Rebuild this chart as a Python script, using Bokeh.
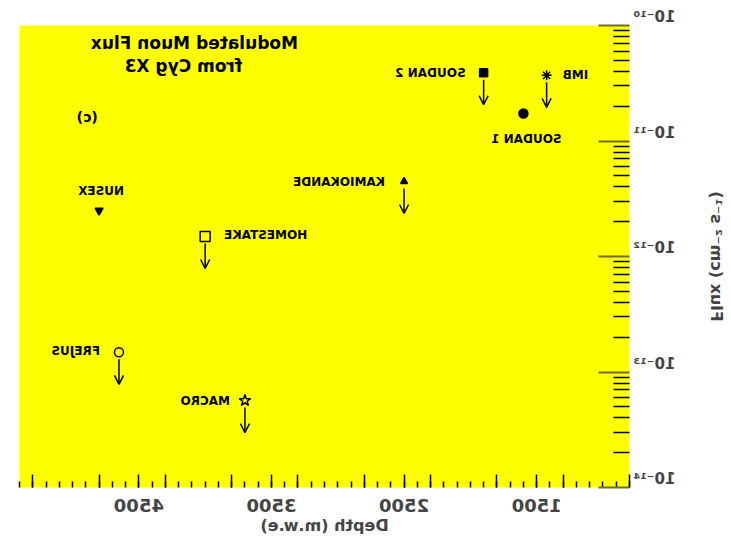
from bokeh.plotting import figure
from bokeh.models import (ColumnDataSource, FixedTicker, CustomJSTickFormatter,
                          Arrow, OpenHead, Label)
from bokeh.core.properties import value
from bokeh.embed import file_html
from bokeh.resources import INLINE

# Underground detectors: depth (m.w.e) and modulated muon flux from Cyg X-3
experiments = ["IMB", "SOUDAN 2", "SOUDAN 1", "KAMIOKANDE", "NUSEX",
               "HOMESTAKE", "FREJUS", "MACRO"]
depth = [1425, 1900, 1600, 2500, 4800, 4000, 4650, 3700]
flux = [3.7e-11, 3.9e-11, 1.73e-11, 4.46e-12, 2.5e-12, 1.49e-12, 1.48e-13, 5.66e-14]
upper_limit = [True, True, False, True, False, True, True, True]

depth_tick_labels = [1500, 2500, 3500, 4500]
flux_decades = [1e-14, 1e-13, 1e-12, 1e-11, 1e-10]
flux_tick_labels = ["10\u207b\u00b9\u2074", "10\u207b\u00b9\u00b3", "10\u207b\u00b9\u00b2",
                    "10\u207b\u00b9\u00b9", "10\u207b\u00b9\u2070"]

FONT_NAME = "DejaVu Sans"
FONT = value(FONT_NAME)

# marker glyph and label placement for each experiment
style = {
    "IMB":        dict(marker="asterisk", size=10, filled=True, align="right", dx=-16, dy=0),
    "SOUDAN 2":   dict(marker="square", size=8, filled=True, align="left", dx=18, dy=0),
    "SOUDAN 1":   dict(marker="circle", size=9, filled=True, align="center", dx=-3, dy=25),
    "KAMIOKANDE": dict(marker="triangle", size=7, filled=True, align="left", dx=19, dy=0),
    "NUSEX":      dict(marker="inverted_triangle", size=8, filled=True, align="center", dx=-2, dy=-20),
    "HOMESTAKE":  dict(marker="square", size=10, filled=False, align="right", dx=-19, dy=-1),
    "FREJUS":     dict(marker="circle", size=9, filled=False, align="left", dx=19, dy=-1),
    "MACRO":      dict(marker="star", size=12, filled=False, align="left", dx=15, dy=0),
}

p = figure(width=731, height=537, output_backend="svg", toolbar_location=None,
           x_range=(800, 5400), y_range=(1e-14, 1e-10), y_axis_type="log",
           min_border_left=101, min_border_right=20, min_border_top=25,
           min_border_bottom=50)
p.background_fill_color = "#ffff00"
p.border_fill_color = "white"
p.outline_line_color = None
p.grid.visible = False

# x axis: labelled every 1000, longer ticks every 500, small ticks every 100
xa = p.xaxis[0]
medium = [800, 1300, 1800, 2300, 2800, 3300, 3800, 4300, 4800, 5300]
xa.ticker = FixedTicker(ticks=sorted(medium + depth_tick_labels),
                        minor_ticks=list(range(800, 5401, 100)))
xa.formatter = CustomJSTickFormatter(args=dict(shown=depth_tick_labels),
                                     code="return shown.includes(tick) ? String(tick) : '';")
xa.axis_line_color = None
xa.major_tick_in = 13
xa.major_tick_out = 0
xa.minor_tick_in = 6
xa.minor_tick_out = 0
xa.major_tick_line_color = "black"
xa.minor_tick_line_color = "black"
xa.major_tick_line_width = 1.5
xa.minor_tick_line_width = 1.5
xa.major_label_standoff = 11
xa.major_label_text_font = FONT_NAME
xa.major_label_text_font_style = "bold"
xa.major_label_text_font_size = "18px"
xa.axis_label = "Depth (m.w.e)"
xa.axis_label_text_font = FONT_NAME
xa.axis_label_text_font_style = "bold"
xa.axis_label_text_font_size = "16px"
xa.axis_label_standoff = 1

# y axis: decades with 2..9 sub-ticks; labels sit just above their tick
ya = p.yaxis[0]
minor_y = [m * 10.0 ** e for e in range(-14, -10) for m in range(2, 10)]
ya.ticker = FixedTicker(ticks=flux_decades, minor_ticks=minor_y)
ya.formatter = CustomJSTickFormatter(
    args=dict(decades=flux_decades, names=flux_tick_labels),
    code="const i = decades.findIndex(t => Math.abs(Math.log10(t) - Math.log10(tick)) < 1e-6);"
         "return i >= 0 ? names[i] + '\\n\\u00a0' : '';")
ya.axis_line_color = None
ya.major_tick_in = 31
ya.major_tick_out = 0
ya.minor_tick_in = 16
ya.minor_tick_out = 0
ya.major_tick_line_color = "#6e6e2a"
ya.major_tick_line_width = 2
ya.minor_tick_line_color = "black"
ya.minor_tick_line_width = 1.5
ya.major_label_standoff = 4
ya.major_label_text_font = FONT_NAME
ya.major_label_text_font_style = "bold"
ya.major_label_text_font_size = "15px"
ya.major_label_text_line_height = 0.9
ya.axis_label = "Flux (cm\u207b\u00b2 s\u207b\u00b9)"
ya.axis_label_text_font = FONT_NAME
ya.axis_label_text_font_style = "bold"
ya.axis_label_text_font_size = "16px"
ya.axis_label_standoff = 29

# markers and their names
for name, d, f in zip(experiments, depth, flux):
    s = style[name]
    src = ColumnDataSource(dict(x=[d], y=[f], t=[name]))
    p.scatter("x", "y", source=src, marker=s["marker"], size=s["size"],
              line_color="black", line_width=1.5,
              fill_color="black" if s["filled"] else None)
    p.text("x", "y", text="t", source=src, text_font=FONT, text_font_style="bold",
           text_font_size="12px", text_color="black", text_align=s["align"],
           text_baseline="middle", x_offset=s["dx"], y_offset=s["dy"])

# downward arrows for the upper limits
lim = [(d, f) for d, f, u in zip(depth, flux, upper_limit) if u]
arrow_src = ColumnDataSource(dict(
    x=[d for d, _ in lim],
    y0=[f * 10 ** (-7 / 115.5) for _, f in lim],
    y1=[f * 10 ** (-32 / 115.5) for _, f in lim],
))
p.add_layout(Arrow(end=OpenHead(size=9, line_width=1.5, line_color="black"),
                   x_start="x", y_start="y0", x_end="x", y_end="y1",
                   line_width=1.5, line_color="black", source=arrow_src))

# panel caption
for txt, x, y, size in [("Modulated Muon Flux", 4081, 7.1e-11, "17px"),
                        ("from Cyg X3", 4164, 4.5e-11, "17px"),
                        ("(c)", 4889, 1.6e-11, "14px")]:
    p.add_layout(Label(x=x, y=y, text=txt, text_font=FONT_NAME, text_font_style="bold",
                       text_font_size=size, text_align="center",
                       text_baseline="middle", text_color="black"))

# the figure is displayed mirrored left-to-right
p.styles = {"transform": "scaleX(-1)"}

with open("out.html", "w", encoding="utf-8") as fh:
    fh.write(file_html(p, INLINE))
